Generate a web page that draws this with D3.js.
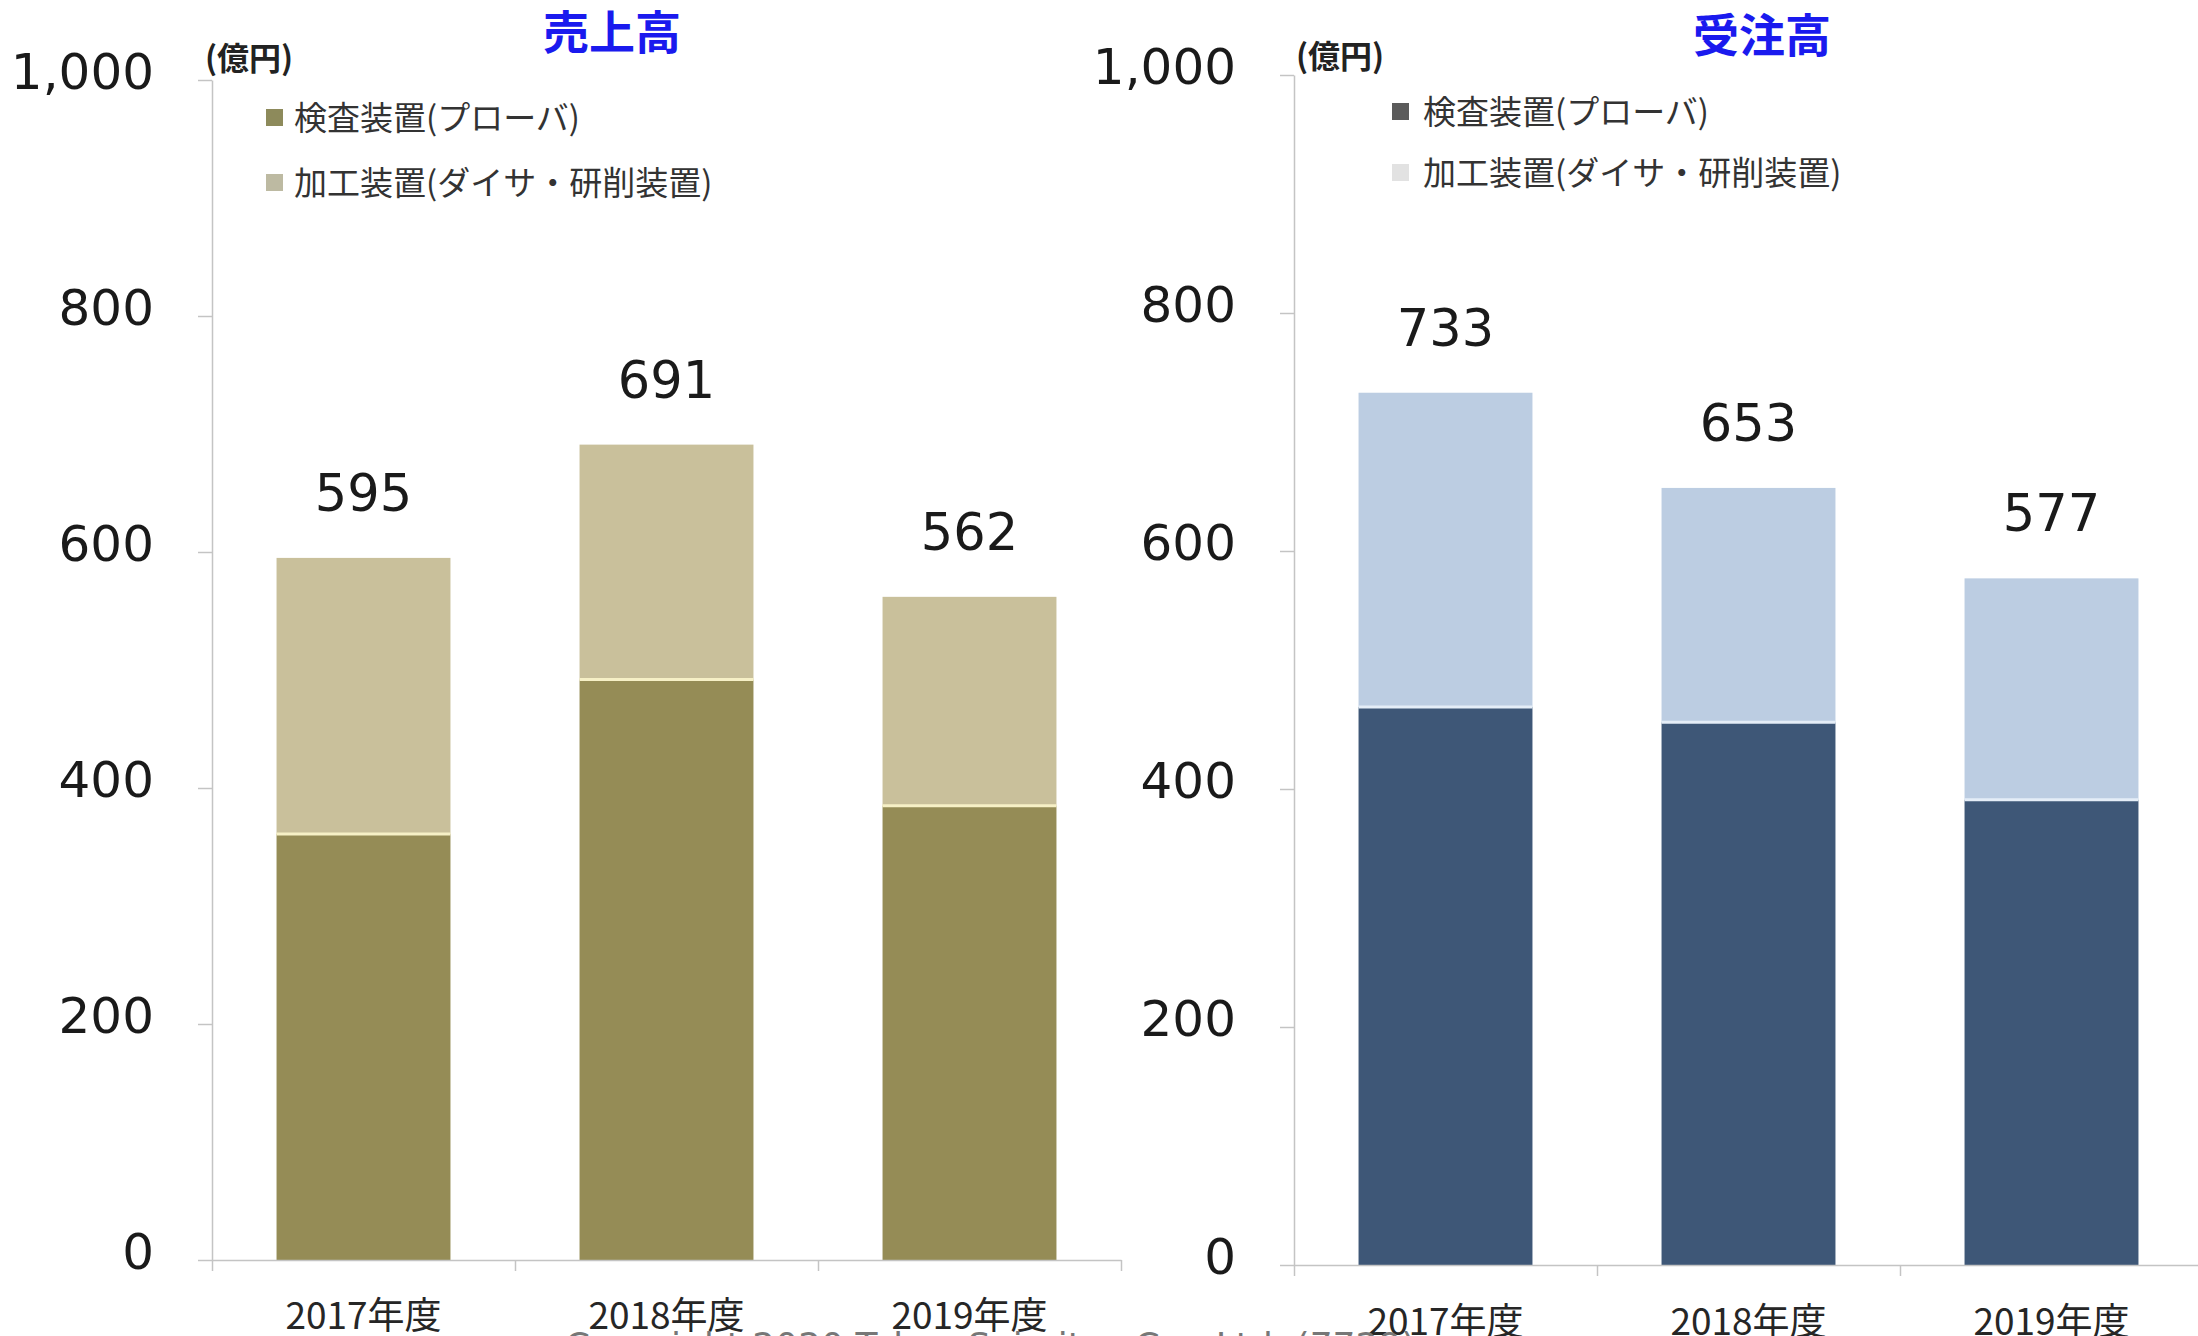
<!DOCTYPE html>
<html>
<head>
<meta charset="utf-8">
<script src="https://cdn.jsdelivr.net/npm/d3@7"></script>
<style>
  html, body { margin: 0; padding: 0; background: #ffffff; }
  svg { display: block; }
</style>
</head>
<body>
<svg id="chart" width="2198" height="1336"></svg>
<script>
// ---- data ----
const categories = ["2017年度", "2018年度", "2019年度"];
const seriesNames = ["検査装置(プローバ)", "加工装置(ダイサ・研削装置)"];
const salesProbe = [361, 492, 385];
const salesMachining = [234, 199, 177];
const salesTotals = [595, 691, 562];
const ordersProbe = [469, 456, 391];
const ordersMachining = [264, 197, 186];
const ordersTotals = [733, 653, 577];
const yTicks = [0, 200, 400, 600, 800, 1000];
const panelTitles = ["売上高", "受注高"];
const unitLabel = "(億円)";
const footerText = "Copyright 2020 Tokyo Seimitsu Co., Ltd. (7729)";

const svg = d3.select("#chart");
svg.append("rect").attr("width", 2198).attr("height", 1336).attr("fill", "#ffffff");

const panels = [
  {
    title: panelTitles[0], probe: salesProbe, machining: salesMachining, totals: salesTotals,
    x0: 212, yBottom: 1260, yTop: 80, titleX: 612, titleY: 49,
    unitX: 205, unitY: 70,
    legX: 266, legTextX: 294, legY: [116, 181],
    barColors: ["#958c56", "#c9c09b"], sepColor: "#f6f0c6",
    swatch: ["#8d8a5b", "#bdbaa2"], catBaseline: 69
  },
  {
    title: panelTitles[1], probe: ordersProbe, machining: ordersMachining, totals: ordersTotals,
    x0: 1294, yBottom: 1265, yTop: 75, titleX: 1762, titleY: 52,
    unitX: 1296, unitY: 68,
    legX: 1392, legTextX: 1423, legY: [110, 171],
    barColors: ["#3e5777", "#bccde2"], sepColor: "#e4edf7",
    swatch: ["#5b5b5b", "#e2e2e2"], catBaseline: 70
  }
];

const bandStep = 303;

panels.forEach(p => {
  const g = svg.append("g");
  const x = d3.scaleBand()
    .domain(categories)
    .range([p.x0, p.x0 + bandStep * categories.length])
    .paddingInner(0.426)
    .paddingOuter(0.213);
  const y = d3.scaleLinear().domain([0, 1000]).range([p.yBottom, p.yTop]);

  const rows = categories.map((c, i) => ({ cat: c, probe: p.probe[i], machining: p.machining[i], total: p.totals[i] }));
  const stack = d3.stack().keys(["probe", "machining"])(rows);

  // bars
  stack.forEach((layer, li) => {
    g.append("g").selectAll("rect")
      .data(layer)
      .join("rect")
      .attr("x", d => x(d.data.cat))
      .attr("width", x.bandwidth())
      .attr("y", d => y(d[1]))
      .attr("height", d => y(d[0]) - y(d[1]))
      .attr("fill", p.barColors[li]);
  });
  // separator line between segments
  g.append("g").selectAll("line")
    .data(rows)
    .join("line")
    .attr("x1", d => x(d.cat))
    .attr("x2", d => x(d.cat) + x.bandwidth())
    .attr("y1", d => y(d.probe))
    .attr("y2", d => y(d.probe))
    .attr("stroke", p.sepColor)
    .attr("stroke-width", 3);

  // y axis
  const yAxis = g.append("g")
    .attr("transform", `translate(${p.x0},0)`)
    .call(d3.axisLeft(y).tickValues(yTicks).tickFormat(d3.format(",")).tickSize(14).tickSizeOuter(0).tickPadding(44));
  yAxis.select(".domain").attr("stroke", "#c4c4c4").attr("stroke-width", 1.5);
  yAxis.selectAll(".tick line").attr("stroke", "#c4c4c4").attr("stroke-width", 1.5);
  yAxis.selectAll(".tick text")
    .attr("font-family", "'DejaVu Sans', Verdana, sans-serif")
    .attr("font-size", 50)
    .attr("fill", "#1a1a1a")
    .attr("dy", "0.17em");

  // x axis: baseline with boundary ticks
  const xb = d3.scaleLinear().domain([0, categories.length]).range([p.x0, p.x0 + bandStep * categories.length]);
  const xAxisTicks = g.append("g")
    .attr("transform", `translate(0,${p.yBottom})`)
    .call(d3.axisBottom(xb).tickValues(d3.range(categories.length + 1)).tickFormat("").tickSize(11).tickSizeOuter(0));
  xAxisTicks.select(".domain").attr("stroke", "#c4c4c4").attr("stroke-width", 1.5);
  xAxisTicks.selectAll(".tick line").attr("stroke", "#c4c4c4").attr("stroke-width", 1.5);

  const xAxis = g.append("g")
    .attr("transform", `translate(0,${p.yBottom})`)
    .call(d3.axisBottom(x).tickSize(0).tickPadding(0));
  xAxis.select(".domain").remove();
  xAxis.selectAll(".tick text")
    .attr("dy", null)
    .attr("y", p.catBaseline)
    .attr("font-family", "'Noto Sans CJK JP', sans-serif")
    .attr("font-size", 37)
    .attr("fill", "#262626");

  // total value labels
  g.append("g").selectAll("text")
    .data(rows)
    .join("text")
    .attr("x", d => x(d.cat) + x.bandwidth() / 2)
    .attr("y", d => y(d.total) - 47)
    .attr("text-anchor", "middle")
    .attr("font-family", "'DejaVu Sans', Verdana, sans-serif")
    .attr("font-size", 51)
    .attr("fill", "#1a1a1a")
    .text(d => d.total);

  // title
  g.append("text")
    .attr("x", p.titleX).attr("y", p.titleY)
    .attr("text-anchor", "middle")
    .attr("font-family", "'Noto Sans CJK JP', sans-serif")
    .attr("font-weight", "bold")
    .attr("font-size", 46)
    .attr("fill", "#1a1aee")
    .text(p.title);

  // unit label
  g.append("text")
    .attr("x", p.unitX).attr("y", p.unitY)
    .attr("font-family", "'Noto Sans CJK JP', sans-serif")
    .attr("font-weight", "bold")
    .attr("font-size", 32)
    .attr("fill", "#222222")
    .text(unitLabel);

  // legend
  seriesNames.forEach((name, i) => {
    g.append("rect")
      .attr("x", p.legX).attr("y", p.legY[i] - 7)
      .attr("width", 17).attr("height", 17)
      .attr("fill", p.swatch[i]);
    g.append("text")
      .attr("x", p.legTextX).attr("y", p.legY[i])
      .attr("dominant-baseline", "central")
      .attr("font-family", "'Noto Sans CJK JP', sans-serif")
      .attr("font-size", 33)
      .attr("fill", "#333333")
      .text(name);
  });
});

// footer (cut off at the bottom edge, as in the reference)
svg.append("text")
  .attr("x", 565).attr("y", 1358)
  .attr("font-family", "'DejaVu Sans', Verdana, sans-serif")
  .attr("font-size", 36)
  .attr("fill", "#777777")
  .text(footerText);
</script>
</body>
</html>
